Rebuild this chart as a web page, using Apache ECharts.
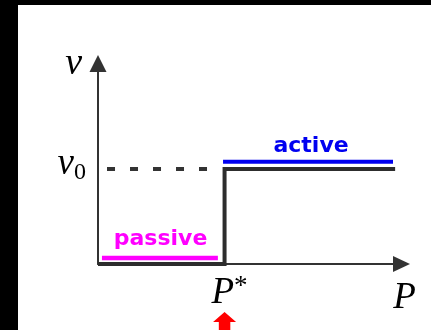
<!DOCTYPE html>
<html>
<head>
<meta charset="utf-8">
<script src="https://cdn.jsdelivr.net/npm/echarts@6/dist/echarts.min.js"></script>
<style>
  html, body { margin: 0; padding: 0; background: #000; width: 431px; height: 330px; overflow: hidden; }
  #chart { position: absolute; left: 18px; top: 5px; width: 413px; height: 325px; background: #fff; }
</style>
</head>
<body>
<div id="chart"></div>
<script>
// Axis domains (P horizontally, v vertically)
const pRange = [0, 100];
const vRange = [0, 10];

// Threshold and plateau values
const pStar = 41.7;
const pEnd = 97.9;
const v0 = 4.74;

// Response curve: zero below P*, v0 above
const responseP = [0, pStar, pStar, pEnd];
const responseV = [0, 0, v0, v0];

// Dashed guide at v0 from the v axis toward P*
const guideP = [2.97, 36.9];

// Regime bands drawn alongside the curve
const activeP = [41.2, 97.2];
const activeLevel = 5.1;
const passiveP = [1.3, 39.5];
const passiveLevel = 0.3;

// Regime captions
const captionText = ['active', 'passive'];
const captionP = [70.2, 20.6];
const captionV = [5.885, 1.22];

// Marker under the threshold
const markerV = -2.94;

const pairs = (xs, ys) => xs.map((x, i) => [x, ys[i]]);
const mathFont = 'Liberation Serif';
const axisColor = '#333';
const blue = '#0000f0';
const magenta = '#ff00ff';

const chart = echarts.init(document.getElementById('chart'), null, { renderer: 'canvas' });
chart.setOption({
  animation: false,
  backgroundColor: '#fff',
  grid: { left: 80, right: 29.5, top: 58.5, bottom: 66, containLabel: false },
  xAxis: {
    type: 'value', min: pRange[0], max: pRange[1],
    name: 'P', nameLocation: 'end', nameGap: 3,
    nameTextStyle: { fontFamily: mathFont, fontStyle: 'italic', fontSize: 37, color: '#000',
      align: 'center', verticalAlign: 'top', padding: [16, 0, 0, 0] },
    axisLine: { show: true, symbol: ['none', 'triangle'], symbolSize: [16, 17],
      lineStyle: { color: axisColor, width: 2 } },
    axisTick: { show: false },
    splitLine: { show: false },
    axisLabel: {
      customValues: [pStar], margin: 9, padding: [0, 0, 0, 10],
      formatter: () => '{p|P}{a|*}',
      rich: {
        p: { fontFamily: mathFont, fontStyle: 'italic', fontSize: 37, color: '#000' },
        a: { fontFamily: mathFont, fontSize: 27, color: '#000', padding: [0, 0, 14, 0] }
      }
    }
  },
  yAxis: {
    type: 'value', min: vRange[0], max: vRange[1],
    name: 'v', nameLocation: 'end', nameGap: -1,
    nameTextStyle: { fontFamily: mathFont, fontStyle: 'italic', fontSize: 38, color: '#000',
      align: 'right', verticalAlign: 'middle', padding: [0, 16, 0, 0] },
    axisLine: { show: true, symbol: ['none', 'triangle'], symbolSize: [17, 17],
      lineStyle: { color: axisColor, width: 2 } },
    axisTick: { show: false },
    splitLine: { show: false },
    axisLabel: {
      customValues: [v0], margin: 12, padding: [0, 0, 10, 0],
      formatter: () => '{v|v}{s|0}',
      rich: {
        v: { fontFamily: mathFont, fontStyle: 'italic', fontSize: 37, color: '#000' },
        s: { fontFamily: mathFont, fontSize: 24, color: '#000', padding: [17, 0, 0, 0] }
      }
    }
  },
  series: [
    {
      name: 'guide', type: 'line', clip: false, symbol: 'none', silent: true,
      data: guideP.map(p => [p, v0]),
      lineStyle: { color: '#333', width: 4, type: [8, 15] }, z: 3
    },
    {
      name: 'response', type: 'line', clip: false, symbol: 'none', silent: true,
      data: pairs(responseP, responseV),
      lineStyle: { color: '#2d2d2d', width: 4, join: 'miter', cap: 'butt' }, z: 4
    },
    {
      name: 'active', type: 'line', clip: false, symbol: 'none', silent: true,
      data: activeP.map(p => [p, activeLevel]),
      lineStyle: { color: blue, width: 4 }, z: 5
    },
    {
      name: 'passive', type: 'line', clip: false, symbol: 'none', silent: true,
      data: passiveP.map(p => [p, passiveLevel]),
      lineStyle: { color: magenta, width: 4.5 }, z: 5
    },
    {
      name: 'captions', type: 'scatter', clip: false, silent: true, symbolSize: 1,
      itemStyle: { color: 'rgba(0,0,0,0)', opacity: 1 },
      data: captionText.map((t, i) => ({
        value: [captionP[i], captionV[i]],
        label: { formatter: t, color: i === 0 ? blue : magenta }
      })),
      label: { show: true, position: 'inside', fontFamily: 'DejaVu Sans', fontWeight: 'bold', fontSize: 22 },
      z: 6
    },
    {
      name: 'marker', type: 'scatter', clip: false, silent: true,
      symbol: 'path://M11,0 L22,10 L16.5,10 L16.5,22 L5.5,22 L5.5,10 L0,10 Z',
      symbolSize: [23, 22],
      itemStyle: { color: '#ff0000', opacity: 1 },
      data: [[pStar, markerV]], z: 6
    }
  ]
});
</script>
</body>
</html>
